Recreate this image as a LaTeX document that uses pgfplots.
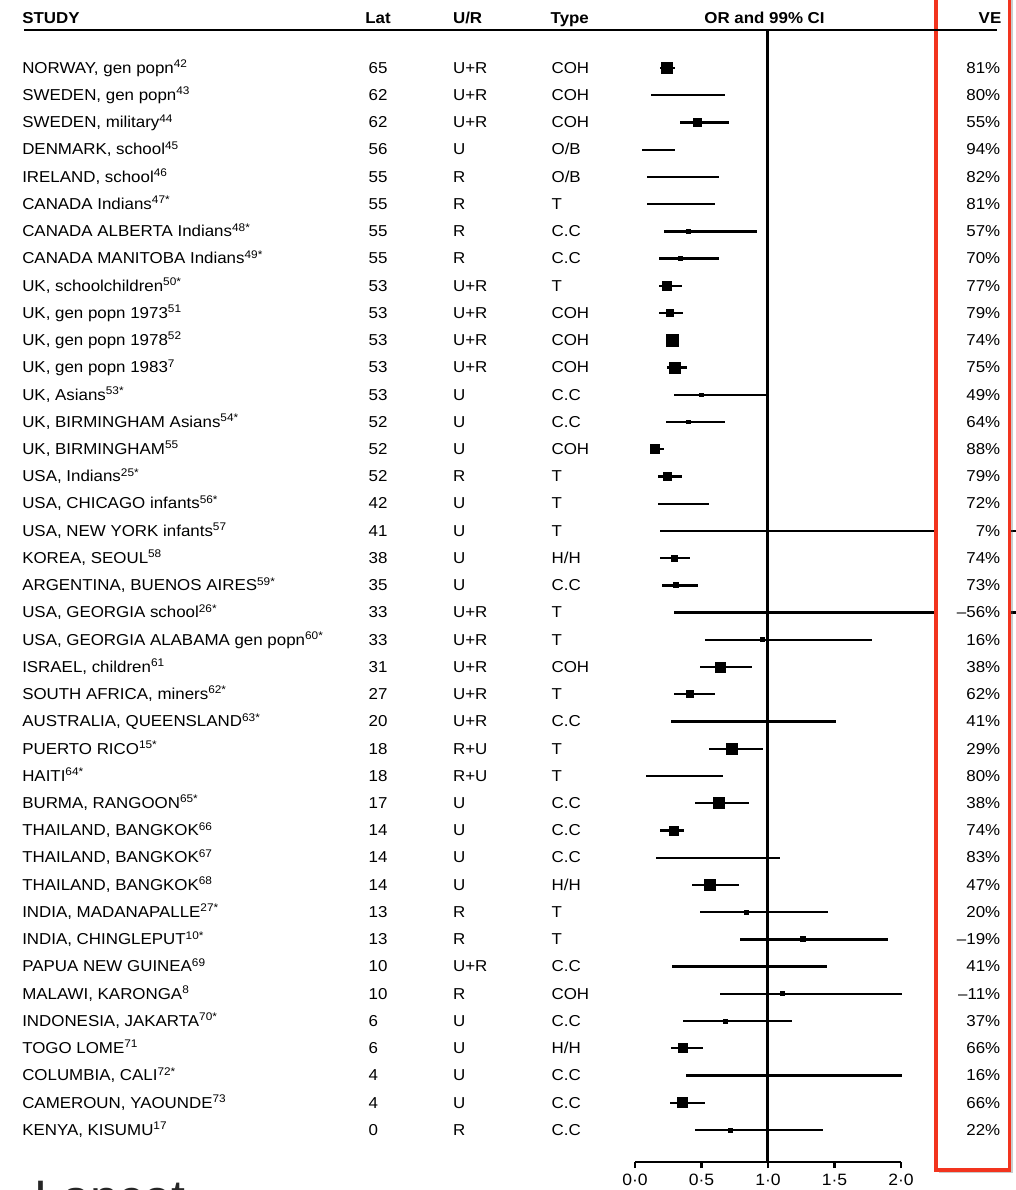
\documentclass[border=0pt]{standalone}
\usepackage{pgfplots}
\pgfplotsset{compat=1.18}
\usepackage{pgfplotstable}
\usepackage{fontspec}
\setmainfont{Liberation Sans}[FakeStretch=1.07]
\usetikzlibrary{shadows}
\definecolor{boxred}{RGB}{242,52,30}

% row, lower CI, estimate, upper CI, half side of box (pt)
\pgfplotstableread{
row lo est hi ms
1 0.19 0.24 0.30 2.75
2 0.12 0.20 0.68 0
3 0.34 0.47 0.71 2.0
4 0.05 0.06 0.30 0
5 0.09 0.18 0.63 0
6 0.09 0.19 0.60 0
7 0.22 0.40 0.92 0.9
8 0.18 0.34 0.63 0.9
9 0.18 0.24 0.35 2.25
10 0.18 0.26 0.36 1.75
11 0.23 0.28 0.33 3.0
12 0.24 0.30 0.39 2.75
13 0.29 0.50 1.01 0.9
14 0.23 0.40 0.68 0.9
15 0.12 0.15 0.22 2.25
16 0.17 0.24 0.35 2.0
17 0.17 0.28 0.56 0
18 0.19 0.93 3.00 0
19 0.19 0.30 0.41 1.5
20 0.20 0.31 0.47 1.25
21 0.29 1.56 3.00 0
22 0.53 0.96 1.78 1.0
23 0.49 0.64 0.88 2.5
24 0.29 0.41 0.60 1.75
25 0.27 0.59 1.51 0
26 0.56 0.73 0.96 2.75
27 0.08 0.20 0.66 0
28 0.45 0.63 0.86 2.75
29 0.19 0.29 0.37 2.25
30 0.16 0.17 1.09 0
31 0.43 0.56 0.78 2.75
32 0.49 0.84 1.45 1.0
33 0.79 1.26 1.90 1.25
34 0.28 0.59 1.44 0
35 0.64 1.11 2.01 1.0
36 0.36 0.68 1.18 1.0
37 0.27 0.36 0.51 2.25
38 0.38 0.84 2.01 0
39 0.26 0.36 0.53 2.5
40 0.45 0.72 1.41 1.0
}\fp

\newcommand\R[6]{%
  \node[anchor=mid west] at (axis cs:-4.61,-#1) {#2};
  \node[anchor=mid west] at (axis cs:-2.005,-#1) {#3};
  \node[anchor=mid west] at (axis cs:-1.371,-#1) {#4};
  \node[anchor=mid west] at (axis cs:-0.630,-#1) {#5};
  \node[anchor=mid east] at (axis cs:2.749,-#1) {#6\%};
}
\newcommand\s[1]{\textsuperscript{#1}}
% boxes of one size, drawn from the table
\newcommand\boxes[1]{%
  \addplot[only marks, mark=square*, mark size=#1pt,
    mark options={draw=none, fill=black}, unbounded coords=discard,
    x filter/.expression={abs(\thisrow{ms}-#1)<0.01 ? x : nan}]
    table[x=est, y expr=-\thisrow{row}] {\fp};
}

\begin{document}
\begin{tikzpicture}[font=\fontsize{7.9}{9}\selectfont, every node/.style={inner sep=0pt}]
\useasboundingbox (0,0) rectangle (508pt,595pt);
\begin{axis}[
  at={(317.5pt,14pt)}, anchor=south west,
  width=133pt, height=566pt, scale only axis,
  xmin=0, xmax=2, ymin=-41.176, ymax=0.3955,
  axis x line*=bottom, axis y line=none,
  xtick={0,0.5,1,1.5,2}, xticklabels={0·0,0·5,1·0,1·5,2·0},
  tick align=outside, major tick length=3pt,
  x axis line style={line width=1.4pt},
  every tick/.style={line width=1.3pt, black},
  xticklabel style={font=\fontsize{8.2}{9}\selectfont, inner sep=2.8pt},
  clip=false,
]
% reference line at OR = 1
\addplot[line width=1.5pt, black] coordinates {(1,0.3955) (1,-41.176)};
% confidence intervals
\addplot[draw=none, mark=none,
  error bars/.cd, x dir=both, x explicit, error mark=none,
  error bar style={line width=1.15pt, black}]
  table[x=est, y expr=-\thisrow{row},
        x error plus expr=\thisrow{hi}-\thisrow{est},
        x error minus expr=\thisrow{est}-\thisrow{lo}] {\fp};
% boxes, size by weight
\boxes{0.9}\boxes{1.0}\boxes{1.25}\boxes{1.5}\boxes{1.75}
\boxes{2.0}\boxes{2.25}\boxes{2.5}\boxes{2.75}\boxes{3.0}

% red annotation box
\draw[boxred, line width=1.8pt, fill=white,
  drop shadow={shadow xshift=1.5pt, shadow yshift=-1.5pt, opacity=0.35, fill=black!60}]
  (axis cs:2.262,2.5) rectangle (axis cs:2.816,-41.47);

% header
\draw[line width=1pt] (axis cs:-4.592,0.3955) -- (axis cs:2.72,0.3955);
\node[anchor=mid west, font=\fontsize{7.9}{9}\selectfont\bfseries] at (axis cs:-4.61,0.836) {STUDY};
\node[anchor=mid west, font=\fontsize{7.9}{9}\selectfont\bfseries] at (axis cs:-2.03,0.836) {Lat};
\node[anchor=mid west, font=\fontsize{7.9}{9}\selectfont\bfseries] at (axis cs:-1.371,0.836) {U/R};
\node[anchor=mid west, font=\fontsize{7.9}{9}\selectfont\bfseries] at (axis cs:-0.637,0.836) {Type};
\node[anchor=mid, font=\fontsize{7.9}{9}\selectfont\bfseries] at (axis cs:0.974,0.836) {OR and 99\% CI};
\node[anchor=mid east, font=\fontsize{7.9}{9}\selectfont\bfseries] at (axis cs:2.757,0.836) {VE};

\R{1}{NORWAY, gen popn\s{42}}{65}{U+R}{COH}{81}
\R{2}{SWEDEN, gen popn\s{43}}{62}{U+R}{COH}{80}
\R{3}{SWEDEN, military\s{44}}{62}{U+R}{COH}{55}
\R{4}{DENMARK, school\s{45}}{56}{U}{O/B}{94}
\R{5}{IRELAND, school\s{46}}{55}{R}{O/B}{82}
\R{6}{CANADA Indians\s{47*}}{55}{R}{T}{81}
\R{7}{CANADA ALBERTA Indians\s{48*}}{55}{R}{C.C}{57}
\R{8}{CANADA MANITOBA Indians\s{49*}}{55}{R}{C.C}{70}
\R{9}{UK, schoolchildren\s{50*}}{53}{U+R}{T}{77}
\R{10}{UK, gen popn 1973\s{51}}{53}{U+R}{COH}{79}
\R{11}{UK, gen popn 1978\s{52}}{53}{U+R}{COH}{74}
\R{12}{UK, gen popn 1983\s{7}}{53}{U+R}{COH}{75}
\R{13}{UK, Asians\s{53*}}{53}{U}{C.C}{49}
\R{14}{UK, BIRMINGHAM Asians\s{54*}}{52}{U}{C.C}{64}
\R{15}{UK, BIRMINGHAM\s{55}}{52}{U}{COH}{88}
\R{16}{USA, Indians\s{25*}}{52}{R}{T}{79}
\R{17}{USA, CHICAGO infants\s{56*}}{42}{U}{T}{72}
\R{18}{USA, NEW YORK infants\s{57}}{41}{U}{T}{7}
\R{19}{KOREA, SEOUL\s{58}}{38}{U}{H/H}{74}
\R{20}{ARGENTINA, BUENOS AIRES\s{59*}}{35}{U}{C.C}{73}
\R{21}{USA, GEORGIA school\s{26*}}{33}{U+R}{T}{\textendash56}
\R{22}{USA, GEORGIA ALABAMA gen popn\s{60*}}{33}{U+R}{T}{16}
\R{23}{ISRAEL, children\s{61}}{31}{U+R}{COH}{38}
\R{24}{SOUTH AFRICA, miners\s{62*}}{27}{U+R}{T}{62}
\R{25}{AUSTRALIA, QUEENSLAND\s{63*}}{20}{U+R}{C.C}{41}
\R{26}{PUERTO RICO\s{15*}}{18}{R+U}{T}{29}
\R{27}{HAITI\s{64*}}{18}{R+U}{T}{80}
\R{28}{BURMA, RANGOON\s{65*}}{17}{U}{C.C}{38}
\R{29}{THAILAND, BANGKOK\s{66}}{14}{U}{C.C}{74}
\R{30}{THAILAND, BANGKOK\s{67}}{14}{U}{C.C}{83}
\R{31}{THAILAND, BANGKOK\s{68}}{14}{U}{H/H}{47}
\R{32}{INDIA, MADANAPALLE\s{27*}}{13}{R}{T}{20}
\R{33}{INDIA, CHINGLEPUT\s{10*}}{13}{R}{T}{\textendash19}
\R{34}{PAPUA NEW GUINEA\s{69}}{10}{U+R}{C.C}{41}
\R{35}{MALAWI, KARONGA\s{8}}{10}{R}{COH}{\textendash11}
\R{36}{INDONESIA, JAKARTA\s{70*}}{6}{U}{C.C}{37}
\R{37}{TOGO LOME\s{71}}{6}{U}{H/H}{66}
\R{38}{COLUMBIA, CALI\s{72*}}{4}{U}{C.C}{16}
\R{39}{CAMEROUN, YAOUNDE\s{73}}{4}{U}{C.C}{66}
\R{40}{KENYA, KISUMU\s{17}}{0}{R}{C.C}{22}

\node[anchor=north west, font=\fontsize{23.5}{28}\selectfont, text=black!85] at (axis cs:-4.517,-41.86) {Lancet};
\end{axis}
\end{tikzpicture}
\end{document}
